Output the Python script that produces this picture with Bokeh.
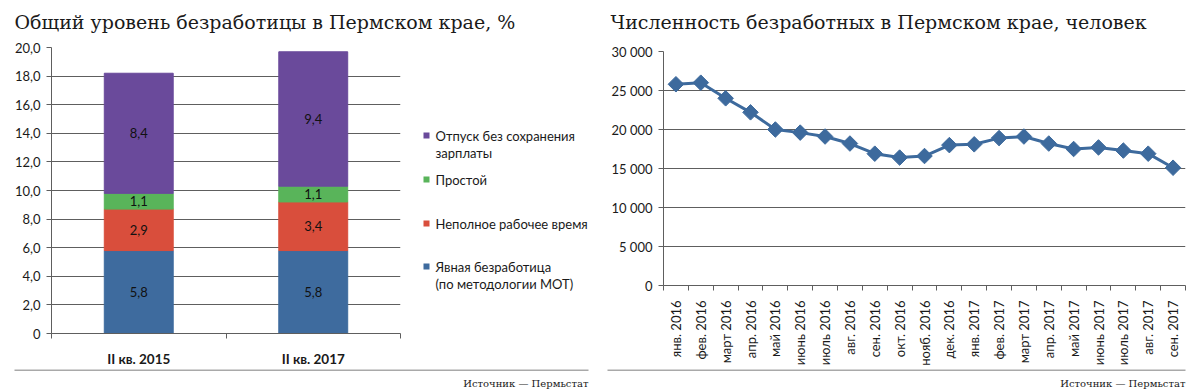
from math import pi
from bokeh.plotting import figure
from bokeh.layouts import row, column
from bokeh.models import (Range1d, FixedTicker, CustomJSTickFormatter, ColumnDataSource)
from bokeh.embed import file_html
from bokeh.resources import INLINE
from bokeh.core.properties import value

# ---------------- data ----------------
left_title = "Общий уровень безработицы в Пермском крае, %"
right_title = "Численность безработных в Пермском крае, человек"
source_note = "Источник — Пермьстат"

quarters = ["II кв. 2015", "II кв. 2017"]
explicit_unemp = [5.8, 5.8]      # Явная безработица (по методологии МОТ)
part_time = [2.9, 3.4]           # Неполное рабочее время
idle_time = [1.1, 1.1]           # Простой
unpaid_leave = [8.4, 9.4]        # Отпуск без сохранения зарплаты

stack_keys = ["explicit", "part", "idle", "unpaid"]
stack_colors = ["#3E6B9E", "#D94E3C", "#59B45A", "#6A4A9B"]
legend_lines = [
    ["Отпуск без сохранения", "зарплаты"],
    ["Простой"],
    ["Неполное рабочее время"],
    ["Явная безработица", "(по методологии МОТ)"],
]
legend_colors = ["#6A4A9B", "#59B45A", "#D94E3C", "#3E6B9E"]

left_y_ticks = [0, 2, 4, 6, 8, 10, 12, 14, 16, 18, 20]
left_y_labels = ["0", "2,0", "4,0", "6,0", "8,0", "10,0", "12,0", "14,0", "16,0", "18,0", "20,0"]

months = ["янв. 2016", "фев. 2016", "март 2016", "апр. 2016", "май 2016", "июнь 2016",
          "июль 2016", "авг. 2016", "сен. 2016", "окт. 2016", "нояб. 2016", "дек. 2016",
          "янв. 2017", "фев. 2017", "март 2017", "апр. 2017", "май 2017", "июнь 2017",
          "июль 2017", "авг. 2017", "сен. 2017"]
unemployed = [25800, 26000, 24000, 22200, 20000, 19600, 19100, 18200, 16900, 16400,
              16600, 18000, 18100, 18900, 19100, 18200, 17500, 17700, 17300, 16900, 15100]

right_y_ticks = [0, 5000, 10000, 15000, 20000, 25000, 30000]
right_y_labels = ["0", "5 000", "10 000", "15 000", "20 000", "25 000", "30 000"]

# ---------------- styles ----------------
GRID = "#5E5E5E"
TXT = "#1A1A1A"
SANS = "Lato"
SERIF = "DejaVu Serif"
LINE_BLUE = "#3D6A9D"

fmt_js = "const i = tks.indexOf(tick); return i >= 0 ? lbls[i] : '';"
cat_js = "const i = Math.floor(tick); return (i >= 0 && i < lbls.length) ? lbls[i] : '';"

ROW_TOP = 36
ROW_H = 333


def style_common(p):
    p.outline_line_color = None
    p.xgrid.visible = False
    p.ygrid.grid_line_color = GRID
    p.ygrid.grid_line_width = 1
    for ax in (p.xaxis[0], p.yaxis[0]):
        ax.axis_line_color = GRID
        ax.major_tick_line_color = GRID
        ax.minor_tick_line_color = GRID
        ax.major_label_text_font = SANS
        ax.major_label_text_font_size = "13px"
        ax.major_label_text_color = TXT
    p.yaxis.major_tick_out = 5
    p.yaxis.major_tick_in = 0
    p.yaxis.minor_tick_out = 0
    p.yaxis.minor_tick_in = 0
    p.xaxis.major_tick_out = 0
    p.xaxis.major_tick_in = 0
    p.xaxis.minor_tick_out = 5
    p.xaxis.minor_tick_in = 0


def canvas_fig(w, h, x0, x1, y_bottom, y_top):
    """A plain figure whose frame fills the canvas; ranges are page pixels."""
    f = figure(width=w, height=h, output_backend="svg", toolbar_location=None,
               x_range=Range1d(x0, x1), y_range=Range1d(y_bottom, y_top),
               x_axis_type=None, y_axis_type=None, min_border=0,
               frame_align=False)
    f.outline_line_color = None
    f.xgrid.visible = False
    f.ygrid.visible = False
    return f


# ---------------- header (titles) ----------------
head = canvas_fig(1200, ROW_TOP, 0, 1200, ROW_TOP, 0)
head.text(x=[14, 610], y=[21, 21], text=[left_title, right_title],
          text_font=value(SERIF), text_font_size="19px", text_color=TXT,
          text_baseline="alphabetic")

# ---------------- left chart ----------------
n_q = len(quarters)
xq = [i + 0.5 for i in range(n_q)]
src = ColumnDataSource(dict(x=xq, explicit=explicit_unemp, part=part_time,
                            idle=idle_time, unpaid=unpaid_leave))

p1 = figure(width=408, height=ROW_H, output_backend="svg", toolbar_location=None,
            x_range=Range1d(0, n_q), y_range=Range1d(0, 20),
            min_border_left=51, min_border_right=8, min_border_top=11,
            min_border_bottom=35, frame_align=False)
style_common(p1)
p1.vbar_stack(stack_keys, x="x", width=0.395, color=stack_colors, source=src,
              line_color=stack_colors, line_width=1)

lx, ly, lt = [], [], []
series = [explicit_unemp, part_time, idle_time, unpaid_leave]
for qi in range(n_q):
    base = 0.0
    for s in series:
        v = s[qi]
        lx.append(xq[qi])
        ly.append(base + v / 2)
        lt.append(f"{v:.1f}".replace(".", ","))
        base += v
p1.text(x=lx, y=ly, text=lt, text_align="center", text_baseline="middle",
        text_font=value(SANS), text_font_size="13px", text_color="#111111")

p1.yaxis.ticker = FixedTicker(ticks=left_y_ticks)
p1.yaxis.formatter = CustomJSTickFormatter(args=dict(tks=left_y_ticks, lbls=left_y_labels), code=fmt_js)
p1.yaxis.major_label_standoff = 6
p1.xaxis.ticker = FixedTicker(ticks=xq, minor_ticks=list(range(n_q + 1)))
p1.xaxis.formatter = CustomJSTickFormatter(args=dict(lbls=quarters), code=cat_js)
p1.xaxis.major_label_text_font_style = "bold"
p1.xaxis.major_label_text_font_size = "13.5px"
p1.xaxis.major_label_standoff = 12

# ---------------- legend ----------------
leg = canvas_fig(192, ROW_H, 408, 600, ROW_TOP + ROW_H, ROW_TOP)
leg_y = [135, 179, 223, 266]
leg.rect(x=[426] * len(leg_y), y=leg_y, width=6, height=6,
         fill_color=legend_colors, line_color=None)
tx, ty, tt = [], [], []
for lines, yc in zip(legend_lines, leg_y):
    for k, t in enumerate(lines):
        tx.append(435)
        ty.append(yc + 17.5 * k)
        tt.append(t)
leg.text(x=tx, y=ty, text=tt, text_font=value(SANS), text_font_size="13px",
         text_color=TXT, text_baseline="middle")

# ---------------- right chart ----------------
n_m = len(months)
xm = [i + 0.5 for i in range(n_m)]
p2 = figure(width=600, height=ROW_H, output_backend="svg", toolbar_location=None,
            x_range=Range1d(0, n_m), y_range=Range1d(0, 30000),
            min_border_left=63, min_border_right=15, min_border_top=15,
            min_border_bottom=84, frame_align=False)
style_common(p2)
p2.line(xm, unemployed, line_color=LINE_BLUE, line_width=3)
p2.scatter(xm, unemployed, marker="square", size=11, angle=pi / 4,
           fill_color=LINE_BLUE, line_color=LINE_BLUE)

p2.yaxis.ticker = FixedTicker(ticks=right_y_ticks)
p2.yaxis.formatter = CustomJSTickFormatter(args=dict(tks=right_y_ticks, lbls=right_y_labels), code=fmt_js)
p2.yaxis.major_label_standoff = 6
p2.xaxis.ticker = FixedTicker(ticks=xm, minor_ticks=list(range(n_m + 1)))
p2.xaxis.formatter = CustomJSTickFormatter(args=dict(lbls=months), code=cat_js)
p2.xaxis.major_label_orientation = pi / 2
p2.xaxis.major_label_standoff = 10

# ---------------- footer ----------------
FOOT_TOP = ROW_TOP + ROW_H
foot = canvas_fig(1200, 391 - FOOT_TOP, 0, 1200, 391, FOOT_TOP)
foot.segment(x0=[14, 607], y0=[FOOT_TOP + 0.5] * 2, x1=[588, 1185], y1=[FOOT_TOP + 0.5] * 2,
             line_color="#555555", line_width=1)
foot.text(x=[588, 1185], y=[383, 383], text=[source_note, source_note],
          text_font=value(SERIF), text_font_size="10px", text_color=TXT,
          text_align="right", text_baseline="middle")

layout = column(head, row(p1, leg, p2), foot)
open("out.html", "w").write(file_html(layout, INLINE))
